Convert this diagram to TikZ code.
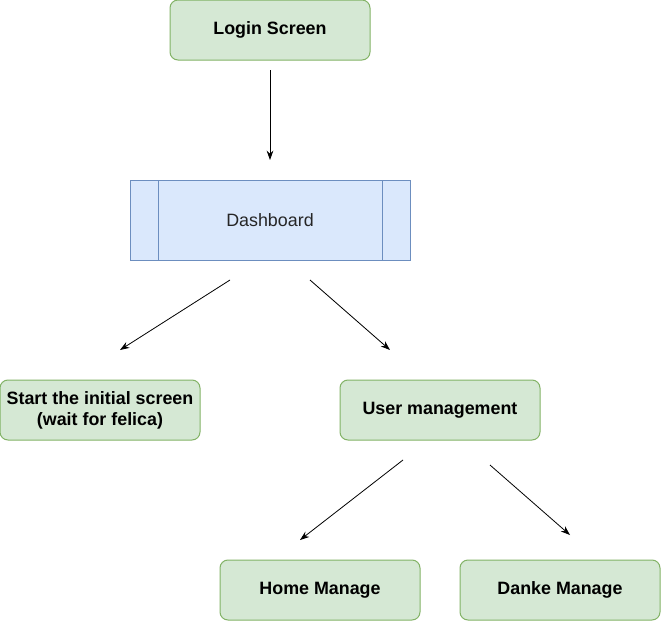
\documentclass[tikz,border=0pt]{standalone}
\usepackage{fontspec}
\setmainfont{Liberation Sans}
\usetikzlibrary{arrows.meta}

\definecolor{boxgreen}{RGB}{213,232,212}
\definecolor{linegreen}{RGB}{130,179,102}
\definecolor{boxblue}{RGB}{218,232,252}
\definecolor{lineblue}{RGB}{108,142,191}

\tikzset{every picture/.style={line width=0.75pt}}
\tikzset{
  greenbox/.style={draw=linegreen, fill=boxgreen, rounded corners=6pt, minimum width=150pt, minimum height=45pt, inner sep=0pt, align=center, font=\fontsize{13.4}{15.8}\selectfont\bfseries},
  bluebox/.style={draw=lineblue, fill=boxblue, minimum width=210pt, minimum height=60pt, inner sep=0pt, font=\fontsize{13.4}{15.8}\selectfont, text=black!85},
  flow/.style={-{Stealth[length=7pt,width=5pt]}, line width=0.6pt},
}

\begin{document}
\begin{tikzpicture}[x=0.75pt,y=0.75pt,yscale=-1,xscale=1]
	\useasboundingbox (0,0) rectangle (661,621);

	%Rounded Rect
	\node[greenbox] (login) at (270,30) {Login Screen};
	%Process
	\node[bluebox] (dash) at (270,220) {Dashboard};
	\draw[draw=lineblue] (158,180) -- (158,260) ;
	\draw[draw=lineblue] (382,180) -- (382,260) ;
	%Rounded Rect
	\node[greenbox] (start) at (100,410) {Start the initial screen\\(wait for felica)};
	%Rounded Rect
	\node[greenbox] (users) at (440,410) {User management};
	%Rounded Rect
	\node[greenbox] (home) at (320,590) {Home Manage};
	%Rounded Rect
	\node[greenbox] (danke) at (560,590) {Danke Manage};

	% Arrow ends
	\coordinate (a1) at (270,70);
	\coordinate (a2) at (270,160);
	\coordinate (b1) at (230,280);
	\coordinate (b2) at (120,350);
	\coordinate (c1) at (310,280);
	\coordinate (c2) at (390,350);
	\coordinate (d1) at (403,460);
	\coordinate (d2) at (300,540);
	\coordinate (e1) at (490,465);
	\coordinate (e2) at (570,535);

	%Straight Lines
	\draw[flow] (a1) -- (a2) ;
	\draw[flow] (b1) -- (b2) ;
	\draw[flow] (c1) -- (c2) ;
	\draw[flow] (d1) -- (d2) ;
	\draw[flow] (e1) -- (e2) ;

\end{tikzpicture}
\end{document}
